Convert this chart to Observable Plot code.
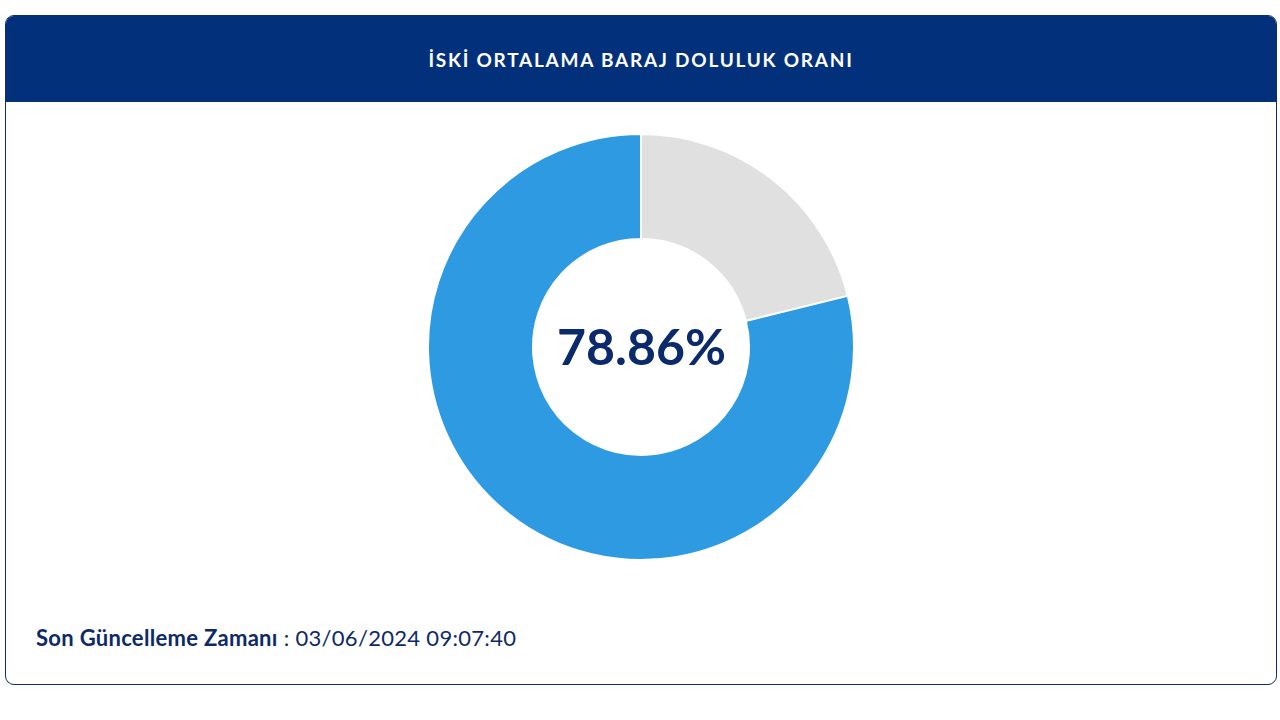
<!DOCTYPE html>
<html>
<head>
<meta charset="utf-8">
<script src="https://cdn.jsdelivr.net/npm/d3@7"></script>
<script src="https://cdn.jsdelivr.net/npm/@observablehq/plot@0.6"></script>
<style>
  html, body { margin: 0; padding: 0; background: #ffffff; width: 1280px; height: 720px; overflow: hidden; }
  body { font-family: Lato, "Open Sans", sans-serif; }
  #card {
    position: absolute; left: 5px; top: 15px; width: 1270px; height: 668px;
    border: 1px solid #0d2d6e; border-radius: 9px; overflow: hidden; background: #fff;
  }
  #header {
    height: 86px; background: #03307a; color: #fff;
    display: flex; align-items: center; justify-content: center;
    font-weight: 700; font-size: 19px; letter-spacing: 1.75px;
  }
  #chart { position: absolute; left: 0; top: 86px; }
  #footer {
    position: absolute; left: 30px; top: 608px; font-size: 22px; color: #0d2a66;
    letter-spacing: 0.3px;
  }
  #footer b { font-weight: 700; }
</style>
</head>
<body>
<div id="card">
  <div id="header"></div>
  <div id="chart"></div>
  <div id="footer"></div>
</div>
<script>
const title = "İSKİ ORTALAMA BARAJ DOLULUK ORANI";
const categories = ["Doluluk", "Boş"];
const values = [78.86, 21.14];
const colors = ["#2e9ae2", "#e0e0e0"];
const centerLabel = "78.86%";
const footerLabel = "Son Güncelleme Zamanı";
const footerValue = "03/06/2024 09:07:40";

document.getElementById("header").textContent = title;
document.getElementById("footer").innerHTML = "<b></b> : <span></span>";
document.querySelector("#footer b").textContent = footerLabel;
document.querySelector("#footer span").textContent = footerValue;

const data = categories.map((c, i) => ({category: c, value: values[i]}));
const W = 1270, H = 490;
const outerR = 213, innerR = 108;

// order so that the empty (grey) part starts at 12 o'clock going clockwise
const ordered = [data[1], data[0]];

function donut(index, scales, channels, dimensions) {
  const cx = (dimensions.marginLeft + dimensions.width - dimensions.marginRight) / 2;
  const cy = (dimensions.marginTop + dimensions.height - dimensions.marginBottom) / 2;
  const pie = d3.pie().sort(null).value(d => d.value)(ordered);
  const arc = d3.arc().innerRadius(innerR).outerRadius(outerR);
  const g = d3.create("svg:g").attr("transform", `translate(${cx},${cy})`);
  g.selectAll("path").data(pie).join("path")
    .attr("d", arc)
    .attr("fill", d => scales.color(d.data.category))
    .attr("stroke", "#ffffff")
    .attr("stroke-width", 2);
  return g.node();
}

const plot = Plot.plot({
  width: W,
  height: H,
  margin: 0,
  style: {background: "transparent", overflow: "visible"},
  color: {type: "ordinal", domain: categories, range: colors},
  marks: [
    donut,
    Plot.text([centerLabel], {
      frameAnchor: "middle",
      text: d => d,
      fontSize: 50,
      fontWeight: 700,
      fill: "#0b2a6b",
      fontFamily: "Lato, sans-serif",
      dy: 1
    })
  ]
});
document.getElementById("chart").appendChild(plot);
</script>
</body>
</html>
